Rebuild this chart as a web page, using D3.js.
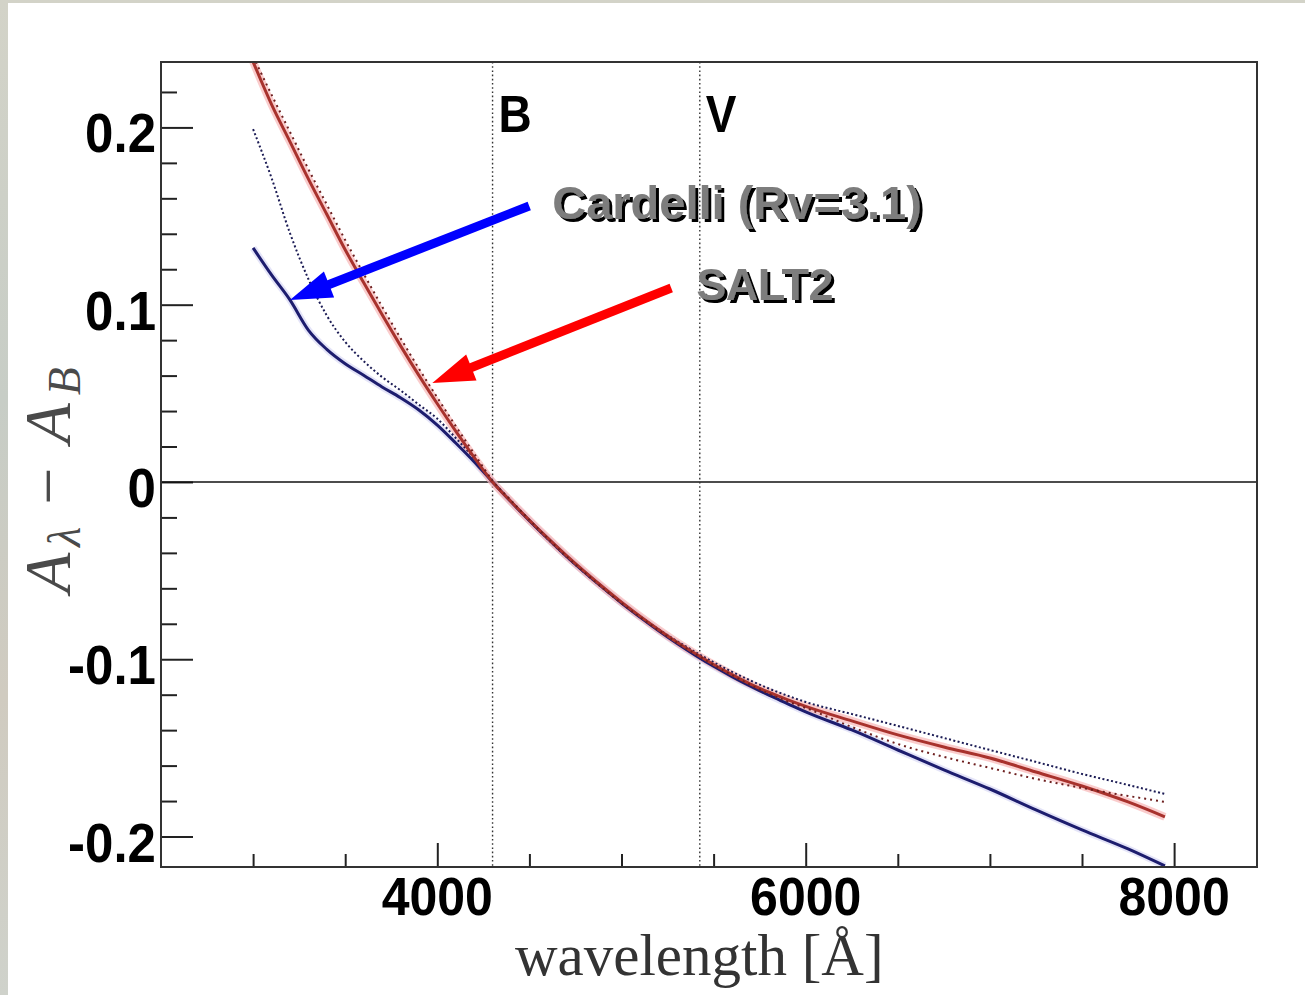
<!DOCTYPE html>
<html>
<head>
<meta charset="utf-8">
<script src="https://cdn.jsdelivr.net/npm/d3@7"></script>
<style>
  html, body { margin: 0; padding: 0; background: #fff; }
  svg { display: block; }
</style>
</head>
<body>
<svg id="chart" width="1305" height="995"></svg>
<script>
// ---------------- data ----------------
const wavelength = [3000,3100,3200,3300,3400,3500,3600,3700,3800,3900,4000,4100,4200,4300,
  4400,4500,4600,4700,4800,4900,5000,5100,5200,5300,5400,5500,5600,5700,5800,5900,6000,
  6250,6500,6750,7000,7250,7500,7750,7950];

const salt2 = [0.237, 0.213, 0.192, 0.171, 0.151, 0.131, 0.1125, 0.0944, 0.0769, 0.0601, 0.0441, 0.0287, 0.0139, 0.0,
  -0.0110, -0.0216, -0.0317, -0.0414, -0.0506, -0.0594, -0.0678, -0.0757, -0.0832, -0.0903, -0.0968, -0.1030, -0.1087,
  -0.1140, -0.1186, -0.1228, -0.1266, -0.1348, -0.1427, -0.1495, -0.1557, -0.1636, -0.1715, -0.1805, -0.1889];

const salt2Alt = [0.240, 0.2185, 0.1975, 0.1765, 0.1565, 0.1365, 0.1175, 0.0990, 0.0812, 0.0640, 0.0476, 0.0315, 0.0160, 0.0008,
  -0.0104, -0.0214, -0.0319, -0.0418, -0.0511, -0.0600, -0.0684, -0.0762, -0.0836, -0.0906, -0.0970, -0.1032, -0.1090,
  -0.1145, -0.1195, -0.1238, -0.1275, -0.1382, -0.1478, -0.1551, -0.1613, -0.1675, -0.1726, -0.1771, -0.1805];

const cardelli = [0.132, 0.1168, 0.1027, 0.0857, 0.0748, 0.0667, 0.0602, 0.0536, 0.0475, 0.0406, 0.0321, 0.0220, 0.0114, 0.0,
  -0.0112, -0.0218, -0.0320, -0.0418, -0.0510, -0.0598, -0.0683, -0.0762, -0.0838, -0.0910, -0.0977, -0.1040, -0.1098,
  -0.1152, -0.1203, -0.1250, -0.1297, -0.1399, -0.1512, -0.1624, -0.1732, -0.1850, -0.1963, -0.2070, -0.2166];

const cardelliAlt = [0.199, 0.1715, 0.1404, 0.1145, 0.0939, 0.0790, 0.0682, 0.0592, 0.0517, 0.0436, 0.0357, 0.0248, 0.0133, 0.0,
  -0.0112, -0.0220, -0.0323, -0.0421, -0.0513, -0.0600, -0.0682, -0.0758, -0.0830, -0.0897, -0.0959, -0.1017, -0.1071,
  -0.1120, -0.1165, -0.1205, -0.1241, -0.1309, -0.1376, -0.1444, -0.1512, -0.1579, -0.1647, -0.1709, -0.1760];

const xMajorTicks = [4000, 6000, 8000];
const xMajorLabels = ["4000", "6000", "8000"];
const xMinorTicks = [3000, 3500, 4500, 5000, 5500, 6500, 7000, 7500];
const yMajorTicks = [-0.2, -0.1, 0, 0.1, 0.2];
const yMajorLabels = ["-0.2", "-0.1", "0", "0.1", "0.2"];
const yMinorTicks = [-0.18,-0.16,-0.14,-0.12,-0.08,-0.06,-0.04,-0.02,0.02,0.04,0.06,0.08,0.12,0.14,0.16,0.18,0.22];

const bandNames = ["B", "V"];
const bandWavelengths = [4300, 5425];

// annotations (data units): tail -> tip
const arrowNames = ["Cardelli (Rv=3.1)", "SALT2"];
const arrowTail = [[4499, 0.1557], [5270, 0.1094]];
const arrowTip = [[3200, 0.1027], [3973, 0.0558]];
const labelAnchor = [[4624, 0.1483], [5406, 0.1027]];
const labelSizes = [47, 45];
const labelSpacing = [0, -0.5];

const xDomain = [2500, 8450];
const yDomain = [-0.2172, 0.2369];

// ---------------- drawing ----------------
const svg = d3.select("#chart");
const pL = 161, pR = 1257, pT = 62, pB = 867;

const x = d3.scaleLinear().domain(xDomain).range([pL, pR]);
const y = d3.scaleLinear().domain(yDomain).range([pB, pT]);

// page background (textured slide edge)
const defs = svg.append("defs");
const grad = defs.append("linearGradient").attr("id", "edge").attr("x1", 0).attr("y1", 0).attr("x2", 0).attr("y2", 1);
grad.append("stop").attr("offset", "0%").attr("stop-color", "#d3d3c8");
grad.append("stop").attr("offset", "40%").attr("stop-color", "#c7cdc6");
grad.append("stop").attr("offset", "70%").attr("stop-color", "#d0cbc0");
grad.append("stop").attr("offset", "100%").attr("stop-color", "#cfd2cb");
svg.append("rect").attr("width", 1305).attr("height", 995).attr("fill", "url(#edge)");
svg.append("rect").attr("x", 8).attr("y", 3).attr("width", 1297).attr("height", 992).attr("fill", "#fff");

defs.append("clipPath").attr("id", "plotclip").append("rect")
  .attr("x", pL).attr("y", pT).attr("width", pR - pL).attr("height", pB - pT);

// drop shadow filter for annotation labels
const filt = defs.append("filter").attr("id", "shadow")
  .attr("x", "-5%").attr("y", "-20%").attr("width", "115%").attr("height", "150%");
filt.append("feOffset").attr("in", "SourceAlpha").attr("dx", 3).attr("dy", 3).attr("result", "off");
filt.append("feFlood").attr("flood-color", "#000").attr("result", "blk");
filt.append("feComposite").attr("in", "blk").attr("in2", "off").attr("operator", "in").attr("result", "sh");
const merge = filt.append("feMerge");
merge.append("feMergeNode").attr("in", "sh");
merge.append("feMergeNode").attr("in", "SourceGraphic");

// ticks (inside the frame)
const xAxisMajor = d3.axisBottom(x).tickValues(xMajorTicks).tickSize(-24).tickFormat("");
const xAxisMinor = d3.axisBottom(x).tickValues(xMinorTicks).tickSize(-13).tickFormat("");
const yAxisMajor = d3.axisLeft(y).tickValues(yMajorTicks).tickSize(-32).tickFormat("");
const yAxisMinor = d3.axisLeft(y).tickValues(yMinorTicks).tickSize(-16).tickFormat("");

function styleAxis(g) {
  g.select(".domain").remove();
  g.selectAll(".tick line").attr("stroke", "#222").attr("stroke-width", 2);
}
svg.append("g").attr("transform", `translate(0,${pB})`).call(xAxisMajor).call(styleAxis);
svg.append("g").attr("transform", `translate(0,${pB})`).call(xAxisMinor).call(styleAxis);
svg.append("g").attr("transform", `translate(${pL},0)`).call(yAxisMajor).call(styleAxis);
svg.append("g").attr("transform", `translate(${pL},0)`).call(yAxisMinor).call(styleAxis);

// zero line
svg.append("line").attr("x1", pL).attr("x2", pR).attr("y1", y(0)).attr("y2", y(0))
  .attr("stroke", "#111").attr("stroke-width", 1.6);

// band lines
svg.append("g").selectAll("line").data(bandWavelengths).join("line")
  .attr("x1", d => x(d)).attr("x2", d => x(d)).attr("y1", pT).attr("y2", pB)
  .attr("stroke", "#333").attr("stroke-width", 1.4).attr("stroke-dasharray", "1.6,2.6");

svg.append("g").selectAll("text").data(bandNames).join("text")
  .attr("transform", (d, i) => `translate(${x(bandWavelengths[i]) + 6},${pT + 70}) scale(1,1.12)`)
  .attr("font-family", "'Liberation Sans', Arial, Helvetica, sans-serif")
  .attr("font-weight", "bold").attr("font-size", 46).attr("fill", "#000")
  .text(d => d);

// curves
const pts = vals => wavelength.map((w, i) => [w, vals[i]]);
const line = d3.line().x(d => x(d[0])).y(d => y(d[1])).curve(d3.curveMonotoneX);
const curves = svg.append("g").attr("clip-path", "url(#plotclip)");

// halos
curves.append("path").attr("d", line(pts(cardelli))).attr("fill", "none")
  .attr("stroke", "#c9c9f2").attr("stroke-opacity", 0.5).attr("stroke-width", 7);
curves.append("path").attr("d", line(pts(salt2))).attr("fill", "none")
  .attr("stroke", "#f5a3a3").attr("stroke-opacity", 0.55).attr("stroke-width", 8);

curves.append("path").attr("d", line(pts(cardelliAlt))).attr("fill", "none")
  .attr("stroke", "#1c1c55").attr("stroke-width", 2).attr("stroke-dasharray", "2,2.4");
curves.append("path").attr("d", line(pts(cardelli))).attr("fill", "none")
  .attr("stroke", "#1d1d6e").attr("stroke-width", 3);
curves.append("path").attr("d", line(pts(salt2))).attr("fill", "none")
  .attr("stroke", "#a8322d").attr("stroke-width", 3);
curves.append("path").attr("d", line(pts(salt2Alt))).attr("fill", "none")
  .attr("stroke", "#6e1f1f").attr("stroke-width", 2).attr("stroke-dasharray", "2,4");

// frame
svg.append("rect").attr("x", pL).attr("y", pT).attr("width", pR - pL).attr("height", pB - pT)
  .attr("fill", "none").attr("stroke", "#333").attr("stroke-width", 2);

// tick labels
const tickFont = "'Liberation Sans', Arial, Helvetica, sans-serif";
svg.append("g").selectAll("text").data(xMajorTicks).join("text")
  .attr("transform", d => `translate(${x(d)},${pB + 48}) scale(1,1.07)`)
  .attr("text-anchor", "middle").attr("font-family", tickFont).attr("font-weight", "bold")
  .attr("font-size", 50).attr("fill", "#000")
  .text((d, i) => xMajorLabels[i]);

svg.append("g").selectAll("text").data(yMajorTicks).join("text")
  .attr("transform", d => `translate(156,${y(d) + 25}) scale(1,1.1)`)
  .attr("text-anchor", "end").attr("font-family", tickFont).attr("font-weight", "bold")
  .attr("font-size", 51).attr("fill", "#000")
  .text((d, i) => yMajorLabels[i]);

// axis titles
svg.append("text")
  .attr("x", 515).attr("y", 975)
  .attr("font-family", "'Liberation Serif', 'DejaVu Serif', serif")
  .attr("font-size", 59).attr("fill", "#333")
  .text("wavelength [Å]");

const yt = svg.append("text")
  .attr("transform", "translate(70,593) rotate(-90)")
  .attr("font-family", "'Liberation Serif', 'DejaVu Serif', serif")
  .attr("font-style", "italic").attr("font-size", 66).attr("fill", "#4a4a4a");
yt.append("tspan").text("A");
yt.append("tspan").attr("font-size", 46).attr("dx", 6).attr("dy", 10).text("λ");
yt.append("tspan").attr("font-style", "normal").attr("dx", 22).attr("dy", -10).text("−");
yt.append("tspan").attr("dx", 24).text("A");
yt.append("tspan").attr("font-size", 46).attr("dx", 8).attr("dy", 10).text("B");

// arrows
const arrowColors = ["#0000ff", "#ff0000"];
const ag = svg.append("g");
arrowNames.forEach((name, i) => {
  const [tx, ty] = [x(arrowTail[i][0]), y(arrowTail[i][1])];
  const [px, py] = [x(arrowTip[i][0]), y(arrowTip[i][1])];
  const dx = px - tx, dy = py - ty, len = Math.hypot(dx, dy);
  const ux = dx / len, uy = dy / len, nx = -uy, ny = ux;
  const headLen = 42, headHalf = 14;
  const bx = px - ux * headLen, by = py - uy * headLen;
  ag.append("line").attr("x1", tx).attr("y1", ty).attr("x2", bx + ux * 2).attr("y2", by + uy * 2)
    .attr("stroke", arrowColors[i]).attr("stroke-width", 9);
  ag.append("path")
    .attr("d", `M${px},${py}L${bx + nx * headHalf},${by + ny * headHalf}L${bx - nx * headHalf},${by - ny * headHalf}Z`)
    .attr("fill", arrowColors[i]);
});

// annotation labels with drop shadow
const annFont = "'Liberation Sans', Arial, Helvetica, sans-serif";
svg.append("g").selectAll("text").data(arrowNames).join("text")
  .attr("x", (d, i) => x(labelAnchor[i][0])).attr("y", (d, i) => y(labelAnchor[i][1]))
  .attr("font-family", annFont).attr("font-weight", "bold")
  .attr("font-size", (d, i) => labelSizes[i]).attr("letter-spacing", (d, i) => labelSpacing[i])
  .attr("fill", "#7d7d7d").attr("filter", "url(#shadow)")
  .text(d => d);
</script>
</body>
</html>
